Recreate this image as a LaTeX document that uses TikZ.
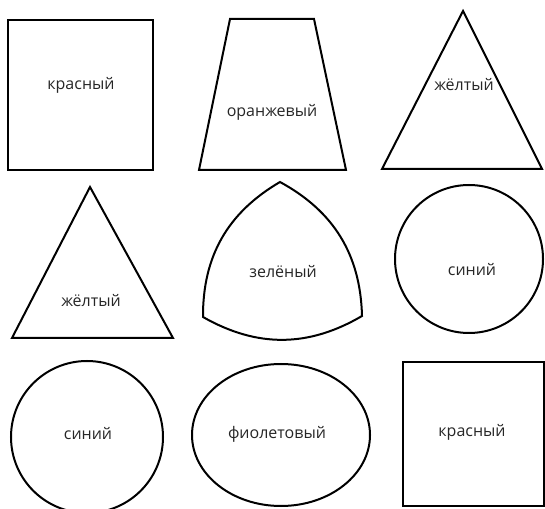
\documentclass[tikz,border=0pt]{standalone}
\usepackage{fontspec}
\setmainfont{Open Sans}
\usepackage{tikz}

\begin{document}
\begin{tikzpicture}[x=1pt,y=1pt,
  shp/.style={draw,line width=2pt,line join=miter},
  lbl/.style={font=\fontsize{16}{18}\selectfont,text=black!85,inner sep=0pt}
]
  \path[use as bounding box] (0,0) rectangle (545,508);
  \clip (0,0) rectangle (545,508);
  % first row
  \draw[shp] (8,338) rectangle (153,488);
  \node[lbl] (red1) at (81,423) {красный};
  \draw[shp] (230,489) -- (314,489) -- (346,338) -- (199,338) -- cycle;
  \node[lbl] (orange) at (272,396) {оранжевый};
  \draw[shp] (463,497) -- (542,339) -- (382,339) -- cycle;
  \node[lbl] (yellow1) at (464,423) {жёлтый};
  % second row
  \draw[shp] (90,321) -- (173,170) -- (12,170) -- cycle;
  \node[lbl] (yellow2) at (91,207) {жёлтый};
  \draw[shp] (280,326) to[bend left=30] (362,192) to[bend left=30] (203,191) to[bend left=30] cycle;
  \node[lbl] (green) at (283,236) {зелёный};
  \draw[shp] (469,249) circle[radius=74];
  \node[lbl] (blue1) at (472,238) {синий};
  % third row
  \draw[shp] (87,71) circle[radius=76];
  \node[lbl] (blue2) at (88,74) {синий};
  \draw[shp] (281,73) ellipse[x radius=89,y radius=71];
  \node[lbl] (violet) at (277,74) {фиолетовый};
  \draw[shp] (403,2) rectangle (544,146);
  \node[lbl] (red2) at (472,76) {красный};
\end{tikzpicture}
\end{document}
